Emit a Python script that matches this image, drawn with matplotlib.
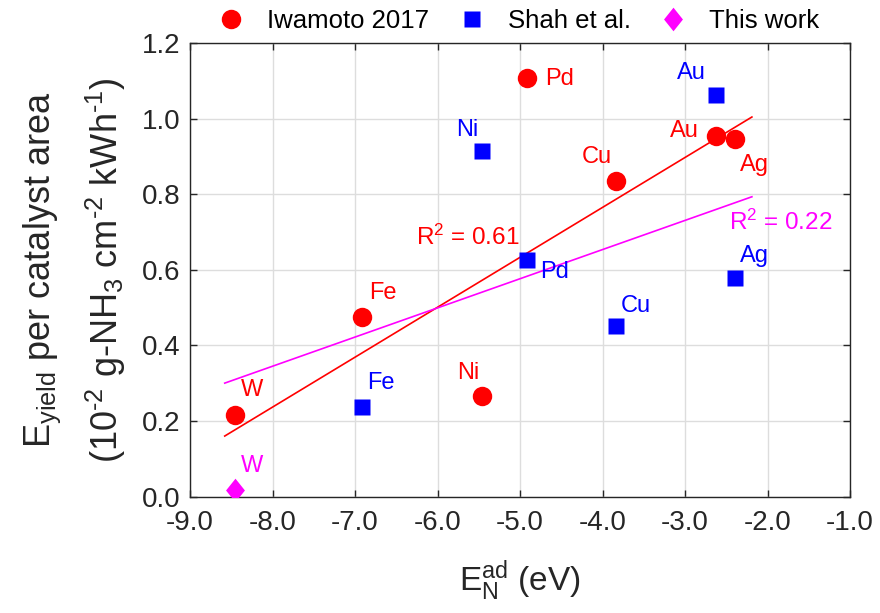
import matplotlib
matplotlib.use("Agg")
import matplotlib.pyplot as plt
from matplotlib.path import Path
from matplotlib.ticker import FormatStrFormatter, MultipleLocator

plt.rcParams['font.family'] = ['Liberation Sans', 'DejaVu Sans']
plt.rcParams['mathtext.fontset'] = 'custom'
plt.rcParams['mathtext.rm'] = 'Liberation Sans'
plt.rcParams['mathtext.it'] = 'Liberation Sans:italic'

# adsorption energy of N (eV) and energy yield per catalyst area
metals = ['W', 'Fe', 'Ni', 'Pd', 'Cu', 'Au', 'Ag']
iwamoto_x = [-8.455, -6.92, -5.465, -4.92, -3.84, -2.63, -2.39]
iwamoto_y = [0.216, 0.474, 0.266, 1.106, 0.834, 0.953, 0.946]

shah_metals = ['Fe', 'Ni', 'Pd', 'Cu', 'Au', 'Ag']
shah_x = [-6.92, -5.465, -4.92, -3.84, -2.63, -2.39]
shah_y = [0.236, 0.913, 0.625, 0.451, 1.063, 0.579]

this_x = [-8.455]
this_y = [0.016]

# linear fits
fit_x = [-8.58, -2.19]
iwamoto_fit = [0.160, 1.004]
shah_fit = [0.300, 0.793]
iwamoto_r2 = 0.61
shah_r2 = 0.22

red = '#FF0000'
blue = '#0000FF'
mag = '#FF00FF'
dark = '#262626'

# tall diamond like the matlab one
diamond = Path([(0, 1), (0.8, 0), (0, -1), (-0.8, 0), (0, 1)],
               [Path.MOVETO, Path.LINETO, Path.LINETO, Path.LINETO,
                Path.CLOSEPOLY])

fig = plt.figure(figsize=(8.8, 6.13), dpi=100)
ax = fig.add_axes([0.216, 0.19, 0.75, 0.74])

ax.plot(fit_x, iwamoto_fit, color=red, lw=1.2, zorder=2)
ax.plot(fit_x, shah_fit, color=mag, lw=1.2, zorder=2)

ax.plot(iwamoto_x, iwamoto_y, 'o', color=red, ms=14, mec='none',
        label='Iwamoto 2017', zorder=3)
ax.plot(shah_x, shah_y, 's', color=blue, ms=11.5, mec='none',
        label='Shah et al.', zorder=3)
ax.plot(this_x, this_y, marker=diamond, ls='none', color=mag, ms=17,
        mec='none', label='This work', zorder=3)

# label offsets in pixels
red_off = {'W': (17, 25), 'Fe': (21, 24), 'Ni': (-13, 23), 'Pd': (33, -1),
           'Cu': (-19, 24), 'Au': (-31, 5), 'Ag': (19, -26)}
blue_off = {'Fe': (19, 24), 'Ni': (-14, 21), 'Pd': (28, -12), 'Cu': (20, 20),
            'Au': (-24, 22), 'Ag': (19, 22)}

fs = 17
for m, x, y in zip(metals, iwamoto_x, iwamoto_y):
    ax.annotate(m, (x, y), xytext=red_off[m], textcoords='offset pixels',
                color=red, fontsize=fs, ha='center', va='center')
for m, x, y in zip(shah_metals, shah_x, shah_y):
    ax.annotate(m, (x, y), xytext=blue_off[m], textcoords='offset pixels',
                color=blue, fontsize=fs, ha='center', va='center')
ax.annotate('W', (this_x[0], this_y[0]), xytext=(17, 24),
            textcoords='offset pixels', color=mag, fontsize=fs,
            ha='center', va='center')

ax.text(-5.64, 0.685, '$\\mathregular{R^2}$ = %.2f' % iwamoto_r2, color=red,
        fontsize=17.5, ha='center', va='center')
ax.text(-1.84, 0.725, '$\\mathregular{R^2}$ = %.2f' % shah_r2, color=mag,
        fontsize=17.5, ha='center', va='center')

ax.set_xlim(-9, -1)
ax.set_ylim(0, 1.2)
ax.xaxis.set_major_locator(MultipleLocator(1))
ax.yaxis.set_major_locator(MultipleLocator(0.2))
ax.xaxis.set_major_formatter(FormatStrFormatter('%.1f'))
ax.yaxis.set_major_formatter(FormatStrFormatter('%.1f'))
ax.tick_params(direction='in', top=True, right=True, length=5, width=1,
               labelsize=20, labelcolor=dark, color=dark)
ax.tick_params(axis='x', pad=10)
ax.tick_params(axis='y', pad=7)
ax.grid(True, color='#DDDDDD', lw=1)
ax.set_axisbelow(True)
for s in ax.spines.values():
    s.set_color(dark)
    s.set_linewidth(1)

ax.set_xlabel('$\\mathregular{E_N^{ad}}$ (eV)', fontsize=24, color=dark,
              labelpad=16)
# short hyphen in the exponents instead of the math minus
ax.set_ylabel('$\\mathregular{E_{yield}}$ per catalyst area\n'
              '($\\mathregular{10^{\u20102}}$ g-NH$\\mathregular{_3}$ '
              'cm$\\mathregular{^{\u20102}}$ kWh$\\mathregular{^{\u20101}}$)',
              fontsize=26, color=dark, labelpad=10, linespacing=1.6)

ax.legend(loc='lower center', bbox_to_anchor=(0.5, 1.0), ncol=3,
          frameon=False, fontsize=18.5, handlelength=0.8,
          handletextpad=1.0, columnspacing=1.25, borderaxespad=0,
          numpoints=1)

fig.savefig('out.png', dpi=100)
